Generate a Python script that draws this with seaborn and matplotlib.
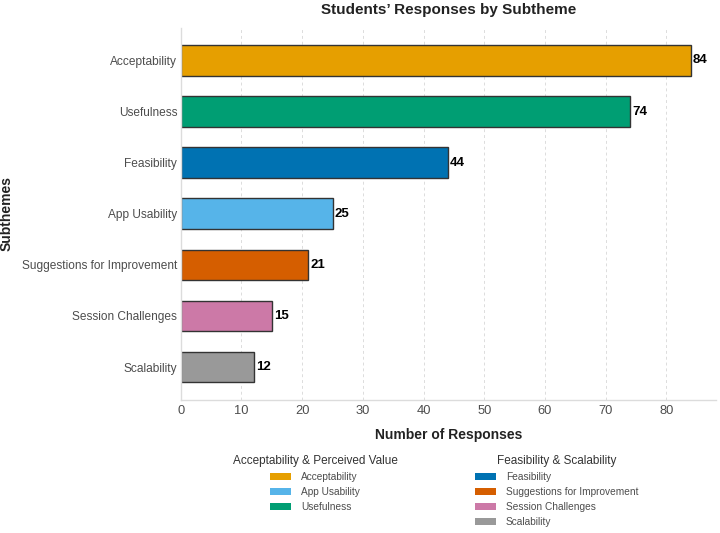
import matplotlib
matplotlib.use("Agg")

import matplotlib.pyplot as plt
from matplotlib.patches import Patch
import pandas as pd
import seaborn as sns

# ─── DATA ────────────────────────────────────────────────────────
SUBTHEMES = ["Acceptability", "Usefulness", "Feasibility", "App Usability",
             "Suggestions for Improvement", "Session Challenges", "Scalability"]
COUNTS    = [84, 74, 44, 25, 21, 15, 12]

GROUP_A_TITLE = "Acceptability & Perceived Value"
GROUP_A       = ["Acceptability", "App Usability", "Usefulness"]
GROUP_B_TITLE = "Feasibility & Scalability"
GROUP_B       = ["Feasibility", "Suggestions for Improvement", "Session Challenges", "Scalability"]

COLORS = {
    "Acceptability":               "#E69F00",
    "Usefulness":                  "#009E73",
    "Feasibility":                 "#0072B2",
    "App Usability":               "#56B4E9",
    "Suggestions for Improvement": "#D55E00",
    "Session Challenges":          "#CC79A7",
    "Scalability":                 "#999999",
}

TXT   = "#4d4d4d"
GRID  = "#dcdcdc"
EDGE  = "#333333"

sns.set_style("white")
plt.rcParams["font.family"] = ["Liberation Sans", "DejaVu Sans"]

df = pd.DataFrame({"subtheme": SUBTHEMES, "count": COUNTS})

# ─── PLOT ────────────────────────────────────────────────────────
fig = plt.figure(figsize=(7.2, 5.33), dpi=100)
ax = fig.add_axes([0.251, 0.25, 0.743, 0.697])

ax.set_axisbelow(True)
ax.grid(axis="x", color=GRID, linestyle=(0, (3, 3)), linewidth=0.7)
ax.grid(axis="y", color=GRID, linestyle="-", linewidth=0.9)

sns.barplot(data=df, x="count", y="subtheme", hue="subtheme", palette=COLORS,
            order=SUBTHEMES, legend=False, width=0.6, edgecolor=EDGE,
            linewidth=1.0, saturation=1, ax=ax)

for i, v in enumerate(COUNTS):
    ax.text(v + 0.35, i, f"{v}", va="center", ha="left",
            fontsize=9.5, fontweight="bold", color="black")

ax.set_xlim(0, 88.1)
ax.set_ylim(6.64, -0.63)
ax.set_xticks(range(0, 81, 10))

for side in ["top", "right"]:
    ax.spines[side].set_visible(False)
for side in ["left", "bottom"]:
    ax.spines[side].set_color(GRID)
    ax.spines[side].set_linewidth(1.0)

ax.tick_params(axis="y", length=0, labelsize=8.6, labelcolor=TXT, pad=2.5)
ax.tick_params(axis="x", length=0, labelsize=9.3, labelcolor=TXT, pad=4)
ax.set_xlabel("Number of Responses", fontsize=10, fontweight="bold", color="#222222", labelpad=8)
ax.set_ylabel("Subthemes", fontsize=10, fontweight="bold", color="#222222", labelpad=6)
ax.set_title("Students\u2019 Responses by Subtheme", fontsize=11, fontweight="bold",
             color="#222222", pad=10)

# ─── LEGENDS ─────────────────────────────────────────────────────
def group_legend(names, title, x):
    handles = [Patch(facecolor=COLORS[n], edgecolor="none", label=n) for n in names]
    leg = fig.legend(handles=handles, title=title, loc="upper center",
                     bbox_to_anchor=(x, 0.16), frameon=False, fontsize=7.3,
                     title_fontsize=8.5, handlelength=2.1, handleheight=0.75,
                     labelspacing=0.5, handletextpad=1.0, borderpad=0.2)
    for t in leg.get_texts():
        t.set_color(TXT)
    leg.get_title().set_color("#333333")
    return leg

group_legend(GROUP_A, GROUP_A_TITLE, 0.4375)
group_legend(GROUP_B, GROUP_B_TITLE, 0.773)

fig.savefig("out.png", dpi=100, facecolor="white")
plt.close(fig)
